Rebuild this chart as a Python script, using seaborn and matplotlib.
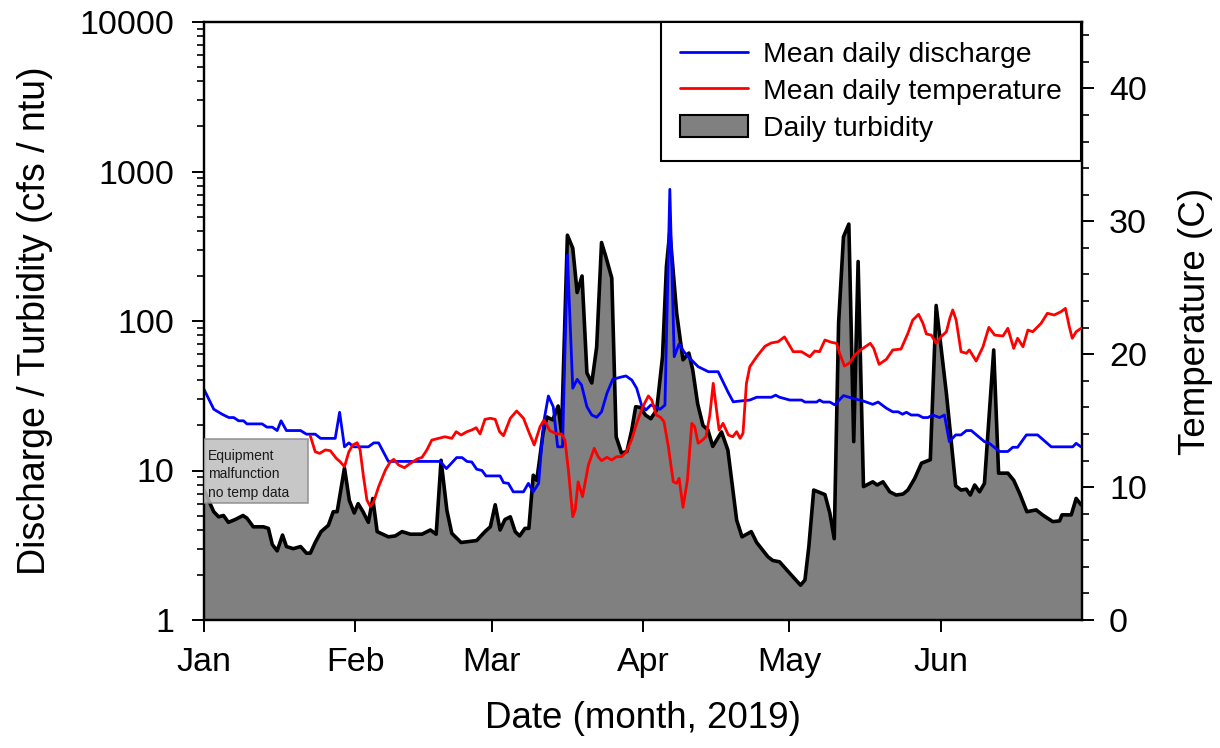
import numpy as np
import pandas as pd
import matplotlib
matplotlib.use('Agg')
import matplotlib.pyplot as plt
import matplotlib.dates as mdates
from matplotlib.lines import Line2D
from matplotlib.patches import Patch, Rectangle
from matplotlib.ticker import LogLocator, MultipleLocator, NullFormatter, FixedLocator
import seaborn as sns

# ---------------- data (day offset from 2019-01-01, value) ----------------
turb_day = [0, 2.0, 3.0, 4.0, 5.0, 6.4, 8.0, 8.8, 10.1, 12.2, 13.2, 14.0, 15.0, 16.1, 16.9, 18.3,
            19.8, 21.0, 21.8, 22.8, 24.0, 25.5, 26.5, 27.3, 28.8, 29.8, 30.8, 31.6, 32.6, 33.7,
            34.6, 35.5, 37.8, 39.2, 40.6, 42.3, 44.7, 46.4, 47.6, 48.6, 49.8, 50.8, 52.7, 55.9,
            57.6, 58.7, 59.7, 60.7, 61.7, 62.8, 63.8, 64.7, 65.8, 66.6, 67.5, 68.2, 68.7, 69.5,
            70.3, 71.5, 72.6, 73.3, 74.5, 75.6, 76.5, 77.5, 78.5, 79.5, 80.5, 81.5, 82.4, 83.6,
            84.5, 85.6, 86.7, 87.7, 88.5, 89.5, 90.5, 91.6, 92.8, 94.0, 94.8, 95.5, 96.9, 98.2,
            99.4, 100.2, 101.2, 102.3, 103.3, 104.3, 106.1, 107.4, 109.2, 110.3, 112.2, 113.3,
            115.6, 116.6, 118.0, 120.1, 122.3, 123.2, 124.0, 125.0, 127.3, 128.3, 129.2, 130.1,
            131.1, 132.2, 133.2, 134.1, 135.2, 137.1, 138.0, 139.2, 140.6, 141.9, 143.3, 144.3,
            145.7, 147.1, 148.9, 150.1, 152.2, 154.1, 155.2, 156.3, 157.1, 158.0, 159.0, 160.0,
            161.9, 162.9, 164.8, 166.0, 167.2, 168.7, 170.6, 171.9, 174.0, 175.4, 175.9, 177.8,
            178.8, 179.8]
turb_val = [7.4, 5.3, 4.9, 5.0, 4.5, 4.7, 5.0, 4.8, 4.2, 4.2, 4.1, 3.2, 2.9, 3.7, 3.1, 3.0,
            3.1, 2.8, 2.8, 3.3, 3.9, 4.3, 5.3, 5.3, 10.4, 6.3, 5.2, 6.0, 5.3, 4.5,
            6.5, 3.9, 3.6, 3.65, 3.9, 3.75, 3.75, 4.0, 3.75, 11.7, 5.4, 3.8, 3.3, 3.4,
            3.9, 4.2, 5.9, 4.0, 4.7, 4.9, 3.9, 3.65, 4.1, 4.1, 9.3, 8.6, 11.2, 17.8,
            22.8, 21.8, 27, 17.8, 375, 307, 155, 200, 45, 38.5, 67, 335, 268, 194,
            16.8, 13.1, 13.4, 18.7, 26.7, 26.4, 23.5, 22.2, 25.4, 57.6, 231, 400, 113, 55,
            61, 47, 28, 20, 18.7, 14.5, 18.1, 13.7, 4.66, 3.6, 3.9, 3.3,
            2.65, 2.5, 2.45, 2.05, 1.71, 1.85, 3.1, 7.4, 6.9, 5.2, 3.5, 97,
            366, 445, 15.6, 250, 7.8, 8.4, 8.0, 8.4, 7.2, 6.85, 6.96, 7.4,
            8.85, 11.2, 11.8, 127, 32.8, 7.9, 7.4, 7.5, 6.85, 8.0, 7.2, 8.2,
            64, 9.6, 9.6, 8.6, 7.05, 5.3, 5.45, 5.05, 4.55, 4.6, 5.05, 5.05,
            6.5, 5.9]

disc_day = [0, 2.0, 3.7, 5.1, 6.1, 7.1, 8.1, 8.8, 11.9, 12.9, 14.0, 15.0, 15.8, 16.9, 19.8,
            21.0, 22.8, 23.9, 26.9, 27.8, 28.8, 29.7, 30.7, 33.7, 34.8, 35.8, 37.8, 48.4, 49.7,
            51.8, 52.9, 53.9, 54.9, 55.9, 57.0, 57.8, 60.7, 61.4, 62.4, 63.4, 65.5, 66.5, 67.5,
            68.6, 69.6, 70.6, 71.6, 72.5, 73.5, 74.5, 75.6, 76.5, 77.4, 78.5, 79.5, 80.5, 81.5,
            82.6, 83.8, 85.3, 86.5, 87.7, 88.7, 89.7, 90.6, 91.6, 92.6, 93.5, 94.5, 95.5, 96.4,
            97.4, 98.4, 99.6, 101.3, 103.4, 105.4, 106.4, 107.5, 108.5, 110.5, 111.9, 113.3,
            116.3, 117.2, 118.0, 120.1, 122.5, 123.2, 125.6, 126.2, 126.9, 128.3, 129.3, 131.1,
            133.0, 135.1, 137.1, 138.2, 139.9, 141.2, 142.3, 143.2, 144.0, 145.0, 146.4, 147.4,
            148.4, 149.4, 150.8, 151.8, 152.8, 154.1, 155.2, 156.3, 157.3, 160.0, 161.0, 163.1,
            164.8, 165.8, 166.8, 168.6, 170.9, 173.7, 178.1, 178.8, 179.8]
disc_val = [34.9, 25.7, 23.8, 22.6, 22.6, 21.5, 21.5, 20.5, 20.5, 19.5, 19.5, 18.5, 21.5, 18.5, 18.5,
            17.5, 17.5, 16.4, 16.4, 24.5, 14.4, 15.3, 14.4, 14.4, 15.3, 15.3, 11.5, 11.5, 10.3,
            12.2, 12.2, 11.5, 11.4, 10.2, 10.0, 9.2, 9.2, 8.3, 8.2, 7.2, 7.2, 8.2, 7.2,
            8.2, 20.7, 31.5, 26.7, 14.4, 14.4, 276, 35.5, 40.7, 37.3, 26.7, 23.5, 22.7, 24.7,
            32.8, 40.7, 42.0, 42.9, 40.3, 35.5, 27.4, 25.4, 27.4, 26.7, 25.7, 27.4, 760, 57.7,
            70.2, 62.3, 56.3, 49.5, 45.8, 45.8, 39.3, 33.1, 28.8, 29.3, 29.6, 30.9,
            30.9, 31.9, 30.9, 29.6, 29.6, 28.7, 28.7, 29.6, 28.7, 28.7, 27.5, 31.7,
            30.4, 29.2, 27.7, 28.7, 26.1, 24.7, 24.7, 23.8, 24.5, 23.5, 23.5, 22.6,
            22.6, 23.5, 22.6, 23.5, 15.6, 17.3, 17.3, 18.5, 18.5, 15.6, 15.2, 13.4,
            13.4, 14.3, 14.3, 17.3, 17.3, 14.4, 14.4, 15.2, 14.4]

temp_day = [21.8, 22.8, 23.7, 24.9, 25.9, 27.1, 27.9, 28.8, 29.7, 30.5, 31.4, 32.0, 32.7, 33.4,
            34.1, 34.8, 35.8, 37.2, 38.2, 38.9, 39.9, 41.1, 42.3, 43.7, 44.7, 45.7, 46.7, 48.1,
            49.4, 50.8, 51.7, 52.7, 53.9, 54.9, 55.8, 56.6, 57.6, 58.7, 59.7, 60.6, 61.4, 62.8,
            64.1, 65.5, 66.7, 67.7, 68.9, 69.7, 70.9, 72.3, 73.3, 74.0, 74.7, 75.6, 76.1, 76.7,
            77.6, 78.8, 80.0, 80.8, 81.5, 82.6, 83.6, 84.6, 85.6, 86.6, 87.7, 88.7, 89.9, 91.1,
            91.8, 92.7, 93.6, 94.3, 95.2, 96.2, 96.9, 97.4, 98.2, 99.1, 100.0, 100.6, 101.3,
            102.2, 102.9, 103.7, 104.4, 104.9, 105.6, 106.4, 107.5, 108.4, 109.2, 109.9, 110.5,
            111.2, 111.9, 112.6, 113.3, 115.0, 116.3, 117.7, 119.0, 120.8, 122.5, 124.2, 125.2,
            126.2, 127.3, 128.6, 129.7, 130.3, 131.3, 132.4, 133.4, 134.8, 136.6, 137.3, 138.4,
            139.9, 141.2, 142.9, 144.3, 145.3, 146.5, 147.4, 148.1, 149.1, 150.1, 151.1, 152.2,
            152.9, 153.5, 154.2, 155.2, 156.3, 156.9, 158.3, 159.7, 160.9, 162.1, 163.8, 164.8,
            166.0, 166.8, 167.9, 168.9, 169.9, 171.6, 172.9, 174.3, 175.7, 176.6, 177.4, 178.0,
            178.8, 179.8]
temp_val = [13.85, 12.66, 12.54, 12.8, 12.74, 12.17, 11.91, 11.54, 12.66, 13.17, 13.34, 12.8, 10.78, 9.03,
            8.53, 8.9, 10.03, 11.29, 11.91, 12.09, 11.66, 11.46, 11.79, 12.11, 12.24, 12.8, 13.54, 13.67,
            13.79, 13.67, 14.17, 13.92, 14.17, 14.3, 14.47, 14.0, 15.1, 15.18, 15.1, 14.17, 13.87, 15.18,
            15.73, 15.18, 14.05, 13.17, 14.55, 15.05, 14.25, 14.0, 14.0, 13.54, 11.29, 7.77, 8.28, 10.4,
            9.28, 11.66, 12.92, 12.29, 11.99, 12.24, 12.04, 12.29, 12.29, 12.66, 13.6, 14.8, 16.0, 16.86,
            16.55, 15.43, 15.25, 14.92, 13.04, 10.4, 10.29, 10.66, 8.48, 10.53, 14.8, 14.55, 13.3,
            13.54, 13.79, 15.43, 17.81, 16.3, 14.3, 14.8, 13.92, 13.79, 14.17, 13.67, 14.05,
            17.8, 19.06, 19.44, 19.81, 20.6, 20.85, 20.94, 21.3, 20.19, 20.19, 19.81, 20.24,
            20.19, 21.07, 20.9, 20.82, 20.07, 19.11, 19.36, 19.94, 20.37, 20.82, 20.44, 19.24,
            19.62, 20.32, 20.39, 21.57, 22.57, 23.0, 22.32, 21.52, 21.44, 20.82, 21.32, 21.69,
            22.7, 23.33, 22.57, 20.19, 20.07, 20.32, 19.49, 20.56, 22.02, 21.44, 21.37, 21.95,
            20.44, 21.2, 20.56, 21.82, 21.69, 22.32, 23.08, 22.95, 23.2, 23.45, 22.07, 21.2,
            21.69, 21.95]

month_labels = ['Jan', 'Feb', 'Mar', 'Apr', 'May', 'Jun']
legend_labels = ['Mean daily discharge', 'Mean daily temperature', 'Daily turbidity']
note_text = 'Equipment\nmalfunction\nno temp data'

# ---------------- style ----------------
sns.set_style('ticks')
plt.rcParams['font.family'] = ['Liberation Sans', 'DejaVu Sans']
plt.rcParams['text.color'] = 'black'
plt.rcParams['axes.labelcolor'] = 'black'
plt.rcParams['xtick.color'] = 'black'
plt.rcParams['ytick.color'] = 'black'

start = pd.Timestamp('2019-01-01')


def to_dates(days):
    return start + pd.to_timedelta(np.asarray(days, dtype=float), unit='D')


turb = pd.DataFrame({'date': to_dates(turb_day), 'val': turb_val})
disc = pd.DataFrame({'date': to_dates(disc_day), 'val': disc_val})
temp = pd.DataFrame({'date': to_dates(temp_day), 'val': temp_val})

W, H = 1220, 748
fig = plt.figure(figsize=(W / 100, H / 100), dpi=100)
ax = fig.add_axes([204 / W, 1 - 620 / H, 878 / W, 598 / H])
ax.set_yscale('log')

ax.fill_between(turb['date'], turb['val'], 1, color='#808080', linewidth=0, zorder=1)
sns.lineplot(data=turb, x='date', y='val', ax=ax, color='black', linewidth=2.6, zorder=2)
sns.lineplot(data=disc, x='date', y='val', ax=ax, color='#0000ff', linewidth=2.0, zorder=3)

ax.set_ylim(1, 10000)
ax.set_xlim(start, start + pd.Timedelta(days=180))

ax2 = ax.twinx()
sns.lineplot(data=temp, x='date', y='val', ax=ax2, color='#ff0000', linewidth=2.0, zorder=3)
ax2.set_ylim(0, 45)

# ---------------- axes / ticks ----------------
month_dates = pd.date_range('2019-01-01', periods=len(month_labels), freq='MS')
ax.xaxis.set_major_locator(FixedLocator(mdates.date2num(month_dates)))
ax.set_xticklabels(month_labels)
ax.yaxis.set_minor_locator(LogLocator(base=10, subs=np.arange(2, 10), numticks=50))
ax.yaxis.set_minor_formatter(NullFormatter())
ax.set_yticks([1, 10, 100, 1000, 10000])
ax.set_yticklabels(['1', '10', '100', '1000', '10000'])

ax2.yaxis.set_minor_locator(MultipleLocator(2))
ax2.set_yticks([0, 10, 20, 30, 40])
ax2.set_yticklabels(['0', '10', '20', '30', '40'])

for a in (ax, ax2):
    for s in a.spines.values():
        s.set_linewidth(1.6)
        s.set_color('black')
    a.tick_params(which='major', direction='out', length=8.5, width=1.4, labelsize=24.5,
                  color='black', labelcolor='black')
    a.tick_params(which='minor', direction='out', length=5, width=1.2, color='black')

ax.tick_params(axis='y', which='major', pad=13)
ax.tick_params(axis='x', which='major', pad=11)
ax2.tick_params(axis='y', which='major', pad=11)
ax.tick_params(axis='x', which='minor', bottom=False)

ax.set_xlabel('Date (month, 2019)', fontsize=26.5, color='black')
ax.set_ylabel('Discharge / Turbidity (cfs / ntu)', fontsize=27, color='black')
ax2.set_ylabel('Temperature (C)', fontsize=26.5, color='black')
ax.xaxis.set_label_coords(0.5, -0.136)
ax.yaxis.set_label_coords(-0.172, 0.5)
ax2.yaxis.set_label_coords(1.109, 0.5)

# ---------------- note box ----------------
box = Rectangle((0.0, (620 - 503) / 598), (308 - 204) / 878, (503 - 439) / 598,
                transform=ax2.transAxes, facecolor='#bdbdbd', edgecolor='#8a8a8a',
                linewidth=1.2, alpha=0.85, zorder=5)
ax2.add_patch(box)
ax2.text((208 - 204) / 878, (620 - 449) / 598, note_text, transform=ax2.transAxes,
         ha='left', va='top', fontsize=10, linespacing=1.4, color='#1a1a1a', zorder=6)

# ---------------- legend ----------------
handles = [Line2D([], [], color='#0000ff', linewidth=2.0),
           Line2D([], [], color='#ff0000', linewidth=2.0),
           Patch(facecolor='#808080', edgecolor='black', linewidth=1.5)]
leg = ax2.legend(handles, legend_labels, loc='upper right', bbox_to_anchor=(0.9985, 1.0),
                 borderaxespad=0, fontsize=20.4, frameon=True, fancybox=False,
                 edgecolor='black', framealpha=1, handlelength=2.4, handleheight=0.8,
                 handletextpad=0.5, borderpad=0.68, labelspacing=0.36)
leg.get_frame().set_linewidth(1.5)
leg.set_zorder(10)
for t in leg.get_texts():
    t.set_color('black')

fig.savefig('out.png', dpi=100)
